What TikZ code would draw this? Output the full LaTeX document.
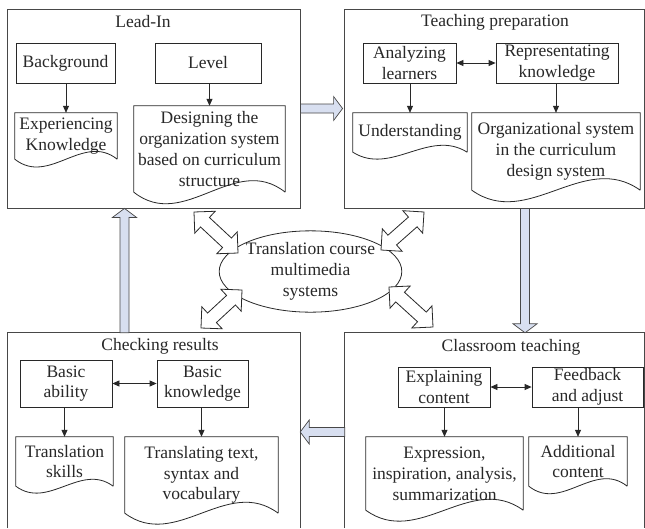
\documentclass[tikz,border=0pt]{standalone}
\usepackage{fontspec}
\setmainfont{Liberation Serif}
\usetikzlibrary{calc,arrows.meta,shapes.geometric}
\definecolor{fatblue}{RGB}{216,223,240}
\definecolor{ink}{RGB}{40,40,40}
\newcommand\docoutline[2]{%
  \draw[doc] (#1.south east) -- (#1.north east) -- (#1.north west) -- (#1.south west)
    .. controls ($(#1.south west)!0.333!(#1.south east)+(0,#2)$) and ($(#1.south west)!0.667!(#1.south east)+(0,-#2)$) .. (#1.south east);
}
\newcommand\fatarrow[2]{%
  \coordinate (fq) at ($(#2)!9pt!(#1)$);
  \draw[fat] ($(#1)!4.5pt!90:(#2)$) -- ($(fq)!4.5pt!-90:(#1)$) -- ($(fq)!12pt!-90:(#1)$) -- (#2)
    -- ($(fq)!12pt!90:(#1)$) -- ($(fq)!4.5pt!90:(#1)$) -- ($(#1)!4.5pt!-90:(#2)$) -- cycle;
}
\newcommand\dblarrow[2]{%
  \coordinate (dq1) at ($(#1)!15pt!(#2)$);
  \coordinate (dq2) at ($(#2)!15pt!(#1)$);
  \draw[hollow] (#1) -- ($(dq1)!15pt!90:(#2)$) -- ($(dq1)!6.5pt!90:(#2)$) -- ($(dq2)!6.5pt!-90:(#1)$)
    -- ($(dq2)!15pt!-90:(#1)$) -- (#2) -- ($(dq2)!15pt!90:(#1)$) -- ($(dq2)!6.5pt!90:(#1)$)
    -- ($(dq1)!6.5pt!-90:(#2)$) -- ($(dq1)!15pt!-90:(#2)$) -- cycle;
}
\tikzset{
  frame/.style={draw=ink!85, line width=0.8pt, inner sep=0pt},
  openframe/.style={draw=none, inner sep=0pt},
  frameline/.style={draw=ink!85, line width=0.8pt},
  box/.style={draw=ink, line width=0.8pt, inner sep=1pt, align=center, minimum height=40pt},
  docnode/.style={inner sep=1pt, align=center},
  doc/.style={draw=ink, line width=0.8pt},
  conn/.style={draw=ink, line width=0.8pt, -{Triangle[length=7pt,width=6pt]}},
  biconn/.style={draw=ink, line width=0.8pt, {Triangle[length=7pt,width=6pt]}-{Triangle[length=7pt,width=6pt]}},
  fat/.style={draw=ink!85, fill=fatblue, line width=0.7pt, line join=miter},
  hollow/.style={draw=ink, fill=white, line width=0.8pt, line join=miter},
  title/.style={inner sep=1pt},
}
\begin{document}
\begin{tikzpicture}[x=1pt,y=-1pt,font=\fontsize{17.5}{20.8}\selectfont,text=ink]
\useasboundingbox[fill=white] (0,0) rectangle (645,528);

% frames
\node[frame, minimum width=293pt, minimum height=199pt] (leadin) at (153.5,108.5) {};
\node[frame, minimum width=300pt, minimum height=199pt] (teach) at (494,108.5) {};
\node[openframe, minimum width=292pt, minimum height=195pt] (check) at (154,430.5) {};
\node[openframe, minimum width=299pt, minimum height=195pt] (class) at (494.5,430.5) {};
\draw[frameline] (check.south west) -- (check.north west) -- (check.north east) -- (check.south east);
\draw[frameline] (class.south west) -- (class.north west) -- (class.north east) -- (class.south east);

% titles
\node[title] (leadinT) at (143,22) {Lead-In};
\node[title] (teachT) at (495,22) {Teaching preparation};
\node[title] (checkT) at (160,346) {Checking results};
\node[title] (classT) at (511,347) {Classroom teaching};

% Lead-In
\node[box, minimum width=99pt] (bg) at (65.5,63) {Background};
\node[box, minimum width=106pt] (lvl) at (208,63) {Level};
\node[docnode, minimum width=102pt, minimum height=46pt] (exk) at (66,136) {Experiencing\\Knowledge};
\node[docnode, minimum width=151pt, minimum height=86pt] (des) at (209.5,149) {Designing the\\organization system\\based on curriculum\\structure};
\docoutline{exk}{27}
\docoutline{des}{40}
\draw[conn] (bg.south -| exk.north) -- (exk.north);
\draw[conn] (lvl.south -| des.north) -- (des.north);

% Teaching preparation
\node[box, minimum width=93pt] (ana) at (409.5,63) {Analyzing\\learners};
\node[box, minimum width=122pt] (rep) at (557,63) {Representating\\knowledge};
\node[docnode, minimum width=114pt, minimum height=39pt] (und) at (410,132.5) {Understanding};
\node[docnode, minimum width=168pt, minimum height=77pt] (org) at (556,151.5) {Organizational system\\in the curriculum\\design system};
\docoutline{und}{24}
\docoutline{org}{40}
\draw[biconn] (ana.east) -- (rep.west);
\draw[conn] (ana.south -| und.north) -- (und.north);
\draw[conn] (rep.south -| org.north) -- (org.north);

% Checking results
\node[box, minimum width=92pt, minimum height=47pt] (bab) at (66,383.5) {Basic\\ability};
\node[box, minimum width=91pt, minimum height=47pt] (bkn) at (202.5,383.5) {Basic\\knowledge};
\node[docnode, minimum width=97pt, minimum height=49pt] (tsk) at (64.5,461.5) {Translation\\skills};
\node[docnode, minimum width=153pt, minimum height=76pt] (ttx) at (201.5,475) {Translating text,\\syntax and\\vocabulary};
\docoutline{tsk}{24}
\docoutline{ttx}{38}
\draw[biconn] (bab.east) -- (bkn.west);
\draw[conn] (bab.south -| tsk.north) -- (tsk.north);
\draw[conn] (bkn.south -| ttx.north) -- (ttx.north);

% Classroom teaching
\node[box, minimum width=92pt] (exc) at (444,387) {Explaining\\content};
\node[box, minimum width=111pt] (fba) at (587.5,387) {Feedback\\and adjust};
\node[docnode, minimum width=157pt, minimum height=73pt] (eia) at (444.5,473.5) {Expression,\\inspiration, analysis,\\summarization};
\node[docnode, minimum width=98pt, minimum height=49pt] (adc) at (578,461.5) {Additional\\content};
\docoutline{eia}{38}
\docoutline{adc}{26}
\draw[biconn] (exc.east) -- (fba.west);
\draw[conn] (exc.south -| eia.north) -- (eia.north);
\draw[conn] (fba.south -| adc.north) -- (adc.north);

% hub
\node[draw=ink, line width=0.8pt, ellipse, minimum width=165pt, minimum height=81pt, inner sep=0pt, align=center] (hub) at (310.5,271.5) {Translation course\\multimedia\\systems};

% fat flow arrows
\coordinate (f1a) at (leadin.east);
\coordinate (f1b) at ($(teach.west)+(-1,0)$);
\fatarrow{f1a}{f1b}
\coordinate (f2a) at ($(teach.south)+(31,0)$);
\coordinate (f2b) at ($(class.north)+(30.5,0)$);
\fatarrow{f2a}{f2b}
\coordinate (f3a) at (class.west |- 0,432);
\coordinate (f3b) at (check.east |- 0,432);
\fatarrow{f3a}{f3b}
\coordinate (f4a) at (check.north -| 124.5,0);
\coordinate (f4b) at (leadin.south -| 124.5,0);
\fatarrow{f4a}{f4b}

% hollow double arrows around hub
\coordinate (d1a) at (194,212);
\coordinate (d1b) at (238,253);
\dblarrow{d1a}{d1b}
\coordinate (d2a) at (381,250);
\coordinate (d2b) at (424,212);
\dblarrow{d2a}{d2b}
\coordinate (d3a) at (201,328);
\coordinate (d3b) at (242,290);
\dblarrow{d3a}{d3b}
\coordinate (d4a) at (389,287);
\coordinate (d4b) at (433,327);
\dblarrow{d4a}{d4b}
\end{tikzpicture}
\end{document}
